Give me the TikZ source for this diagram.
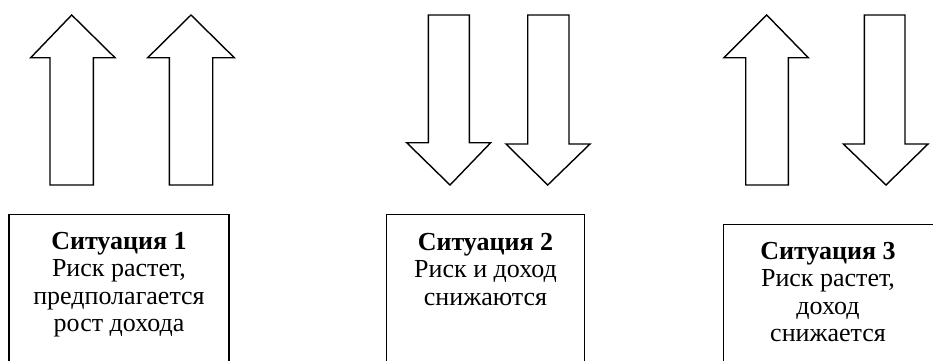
\documentclass[tikz,border=0pt]{standalone}
\usepackage{fontspec}
\setmainfont{Liberation Serif}
\begin{document}
\begin{tikzpicture}[x=1pt,y=-1pt,
  arrowshape/.style={draw=black,line width=1.4pt,line join=miter,fill=white},
  boxshape/.style={draw=black,line width=1.4pt},
  label/.style={anchor=north,inner sep=0pt,align=center,font=\fontsize{26}{27.4}\selectfont}]
\useasboundingbox (0,0) rectangle (933,360);
% arrows situation 1 (up, up)
\draw[arrowshape] (71.7,15) -- (115,57.7) -- (93.3,57.7) -- (93.3,185) -- (50,185) -- (50,57.7) -- (30.7,57.7) -- cycle;
\draw[arrowshape] (191,15) -- (234.3,57.7) -- (212.7,57.7) -- (212.7,185) -- (169.3,185) -- (169.3,57.7) -- (147.7,57.7) -- cycle;
% arrows situation 2 (down, down)
\draw[arrowshape] (428.3,15) -- (469.3,15) -- (469.3,142.7) -- (490.7,142.7) -- (450,185) -- (406.7,142.7) -- (428.3,142.7) -- cycle;
\draw[arrowshape] (527.7,15) -- (569,15) -- (569,144) -- (590,144) -- (547.7,185) -- (506,144) -- (527.7,144) -- cycle;
% arrows situation 3 (up, down)
\draw[arrowshape] (766.7,15) -- (808.3,57.7) -- (788.3,57.7) -- (788.3,185) -- (745.7,185) -- (745.7,57.7) -- (724,57.7) -- cycle;
\draw[arrowshape] (864.3,15) -- (905,15) -- (905,144) -- (928,144) -- (886,185) -- (843.3,144) -- (864.3,144) -- cycle;
% boxes
\draw[boxshape] (9,370) -- (9,214.3) -- (229,214.3) -- (229,370);
\draw[boxshape] (386.7,370) -- (386.7,214.3) -- (584.3,214.3) -- (584.3,370);
\draw[boxshape] (723.3,370) -- (723.3,224.3) -- (940,224.3);
% texts
\node[label] (t1) at (119,232) {\textbf{Ситуация 1}\\Риск растет,\\предполагается\\рост дохода};
\node[label] (t2) at (485.5,233) {\textbf{Ситуация 2}\\Риск и доход\\снижаются};
\node[label] (t3) at (828,242) {\textbf{Ситуация 3}\\Риск растет,\\доход\\снижается};
\end{tikzpicture}
\end{document}
